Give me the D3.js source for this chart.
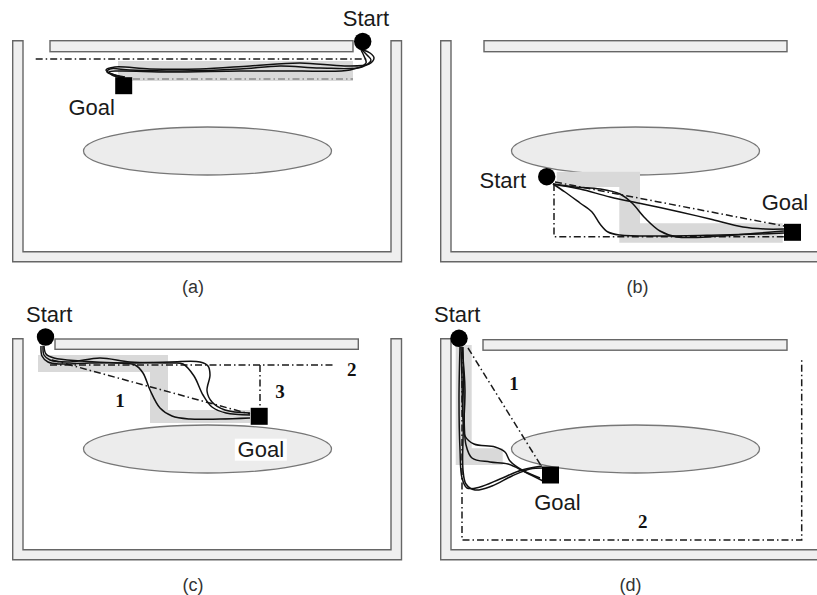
<!DOCTYPE html>
<html>
<head>
<meta charset="utf-8">
<script src="https://cdn.jsdelivr.net/npm/d3@7"></script>
<style>
html,body{margin:0;padding:0;background:#fff;}
svg{display:block;}
</style>
</head>
<body>
<svg id="chart" width="817" height="595"></svg>
<script>
// ---------- DATA (panel-local units) ----------
const panelNames = ["(a)", "(b)", "(c)", "(d)"];
const panelOffsetX = [0, 428, 0, 428];
const panelOffsetY = [0, 0, 298, 298];

// shared environment
const wallOuter = [12.7, 401.5, 40.7, 261.7];   // left, right, top, bottom
const wallInner = [23, 391, 251.7];              // left, right, bottom
const ellipseC = [207.5, 151];
const ellipseR = [124, 24];

const barX = [[50, 353], [56, 359], [55, 358.3], [55, 359]];
const barY = [[40.7, 51.7], [40.7, 51.7], [41, 51.3], [41.7, 52.2]];

const startPts = [[362.7, 41.5], [118.7, 176.7], [45.5, 39], [31, 40.3]];
const goalPts = [[123.7, 85.7], [364.5, 232.3], [259.2, 118.3], [122.5, 177]];

const startLabel = [[366, 26], [74.8, 188.3], [49.2, 23.7], [29.2, 23.7]];
const goalLabel = [[91.7, 115], [357, 210], [260.8, 158.7], [129.5, 212]];
const captionX = [193, 209.5, 193, 202.5];
const captionY = [293, 293, 293, 293];

// grey cell shading (planner cells)
const shadeA = [[118, 61], [353, 61], [353, 81], [118, 81]];
const shadeB = [[128.7, 171.7], [212, 171.7], [212, 223.3], [354.7, 223.3], [354.7, 242.7], [191.3, 242.7], [191.3, 187], [128.7, 187]];
const shadeC = [[38, 57], [168, 57], [168, 112], [250, 112], [250, 125], [150, 125], [150, 74], [38, 74]];
const shadeD = [[27.7, 47], [43.7, 47], [43.7, 150.3], [74.7, 150.3], [74.7, 167], [27.7, 167]];

// planned routes (dash-dot)
const routesA = [[[35.7, 59], [367, 59]], [[133, 79], [353, 79]]];
const routesB = [[[126, 184], [126, 236.7], [356, 236.7]], [[127, 182], [356, 226]]];
const routesC = [[[52, 62], [250, 116]], [[50, 67], [333, 67]], [[260, 67], [260, 110]]];
const routesD = [[[40, 50], [113.7, 168.7]], [[34, 54], [34, 242], [373.7, 242], [373.7, 60]]];

// route numbers
const routeNumsC = [["1", 120, 109], ["2", 351.7, 78], ["3", 280, 99.5]];
const routeNumsD = [["1", 86, 91.5], ["2", 214.7, 229.5]];

// executed trajectories (solid)
const pathsA = [
  [[363, 50], [370, 53], [374, 58], [369, 64], [345, 66], [300, 63], [250, 66], [200, 69], [150, 69], [115, 67], [106, 70], [112, 74], [125, 77]],
  [[362, 50], [367, 55], [371, 60], [362, 67], [320, 68], [280, 66], [240, 69], [180, 71], [130, 70], [110, 69], [107, 72], [118, 76], [124, 78]],
  [[361, 50], [364, 56], [366, 63], [350, 70], [300, 71], [240, 71], [170, 72], [118, 71], [109, 72], [112, 75], [123, 78]]
];
const pathsB = [
  [[125, 184], [137, 192], [152, 203], [164, 212], [172, 224], [180, 232], [192, 235], [232, 236], [292, 235], [332, 234], [356, 233]],
  [[125, 184], [147, 187], [172, 189], [192, 194], [204, 203], [217, 218], [232, 231], [249, 237], [292, 236], [332, 233], [356, 231]],
  [[125, 184], [152, 189], [182, 197], [215, 204], [252, 212], [282, 219], [315, 227], [337, 229], [356, 229]]
];
const pathsC = [
  [[41, 48], [42, 58], [48, 64], [60, 66], [90, 65], [120, 65], [135, 67], [143, 75], [150, 92], [160, 110], [172, 118], [190, 121], [220, 121], [250, 120]],
  [[43, 48], [44, 57], [50, 62], [70, 64], [100, 60], [130, 64], [170, 65], [183, 66], [194, 78], [203, 97], [212, 109], [226, 115], [250, 117]],
  [[44, 48], [46, 56], [54, 60], [80, 63], [120, 65], [170, 64], [200, 64], [208, 68], [210, 77], [207, 93], [212, 104], [225, 112], [250, 115]]
];
const pathsD = [
  [[33, 49], [34, 82], [35, 122], [37, 138], [46, 146], [67, 149], [77, 154], [82, 163], [94, 172], [112, 180]],
  [[32, 49], [31, 102], [32, 152], [34, 180], [39, 190], [52, 189], [72, 181], [94, 172], [114, 168]],
  [[34, 49], [37, 92], [35, 142], [35, 172], [38, 186], [47, 192], [64, 188], [84, 178], [102, 171], [117, 170]],
  [[35, 49], [36, 102], [38, 147], [44, 160], [62, 164], [80, 166], [97, 174], [115, 183]]
];

const shades = [shadeA, shadeB, shadeC, shadeD];
const routes = [routesA, routesB, routesC, routesD];
const routeNums = [[], [], routeNumsC, routeNumsD];
const paths = [pathsA, pathsB, pathsC, pathsD];

// ---------- DRAW ----------
const svg = d3.select("#chart");
const sans = "'Liberation Sans', Arial, Helvetica, sans-serif";
const serif = "'Liberation Serif', 'Times New Roman', serif";

panelNames.forEach((name, i) => {
  const x = d3.scaleLinear().domain([0, 410]).range([panelOffsetX[i], panelOffsetX[i] + 410]);
  const y = d3.scaleLinear().domain([0, 300]).range([panelOffsetY[i], panelOffsetY[i] + 300]);
  const g = svg.append("g");
  const lin = d3.line().x(d => x(d[0])).y(d => y(d[1]));
  const curve = d3.line().x(d => x(d[0])).y(d => y(d[1])).curve(d3.curveCatmullRom.alpha(0.5));

  // walls (U shape)
  const wallPoly = [
    [wallOuter[0], wallOuter[2]], [wallOuter[0], wallOuter[3]], [wallOuter[1], wallOuter[3]],
    [wallOuter[1], wallOuter[2]], [wallInner[1], wallOuter[2]], [wallInner[1], wallInner[2]],
    [wallInner[0], wallInner[2]], [wallInner[0], wallOuter[2]]
  ];
  g.append("path").attr("d", lin(wallPoly) + "Z")
    .attr("fill", "#efefef").attr("stroke", "#666").attr("stroke-width", 1.4);

  // top bar
  g.append("rect")
    .attr("x", x(barX[i][0])).attr("y", y(barY[i][0]))
    .attr("width", x(barX[i][1]) - x(barX[i][0])).attr("height", y(barY[i][1]) - y(barY[i][0]))
    .attr("fill", "#efefef").attr("stroke", "#666").attr("stroke-width", 1.4);

  // ellipse obstacle
  g.append("ellipse")
    .attr("cx", x(ellipseC[0])).attr("cy", y(ellipseC[1]))
    .attr("rx", x(ellipseC[0] + ellipseR[0]) - x(ellipseC[0]))
    .attr("ry", y(ellipseC[1] + ellipseR[1]) - y(ellipseC[1]))
    .attr("fill", "#ececec").attr("stroke", "#777").attr("stroke-width", 1.3);

  // shading
  g.append("path").attr("d", lin(shades[i]) + "Z").attr("fill", "#d9d9d9");

  // routes
  routes[i].forEach((r, k) => {
    g.append("path").attr("d", lin(r)).attr("fill", "none")
      .attr("stroke", (i === 0 && k === 1) ? "#8a8a8a" : "#1a1a1a")
      .attr("stroke-width", 1.5)
      .attr("stroke-dasharray", "7,3,1.5,3");
  });

  // trajectories
  paths[i].forEach(p => {
    g.append("path").attr("d", curve(p)).attr("fill", "none")
      .attr("stroke", "#111").attr("stroke-width", 1.5);
  });

  // route numbers
  routeNums[i].forEach(n => {
    g.append("text").attr("x", x(n[1])).attr("y", y(n[2]))
      .attr("text-anchor", "middle").attr("font-family", serif)
      .attr("font-weight", "bold").attr("font-size", 19).attr("fill", "#111").text(n[0]);
  });

  // start and goal markers
  g.append("circle").attr("cx", x(startPts[i][0])).attr("cy", y(startPts[i][1]))
    .attr("r", 8.7).attr("fill", "#000");
  g.append("rect")
    .attr("x", x(goalPts[i][0] - 8.5)).attr("y", y(goalPts[i][1] - 8.5))
    .attr("width", 17).attr("height", 17).attr("fill", "#000");

  // labels
  g.append("text").attr("x", x(startLabel[i][0])).attr("y", y(startLabel[i][1]))
    .attr("text-anchor", "middle").attr("font-family", sans).attr("font-size", 22)
    .attr("fill", "#1a1a1a").text("Start");
  if (i === 2) {
    g.append("rect").attr("x", x(goalLabel[i][0]) - 26).attr("y", y(goalLabel[i][1]) - 18)
      .attr("width", 52).attr("height", 22).attr("fill", "#fff");
  }
  g.append("text").attr("x", x(goalLabel[i][0])).attr("y", y(goalLabel[i][1]))
    .attr("text-anchor", "middle").attr("font-family", sans).attr("font-size", 22)
    .attr("fill", "#1a1a1a").text("Goal");

  // caption
  g.append("text").attr("x", x(captionX[i])).attr("y", y(captionY[i]))
    .attr("text-anchor", "middle").attr("font-family", sans).attr("font-size", 18)
    .attr("fill", "#333").text(name);
});
</script>
</body>
</html>
